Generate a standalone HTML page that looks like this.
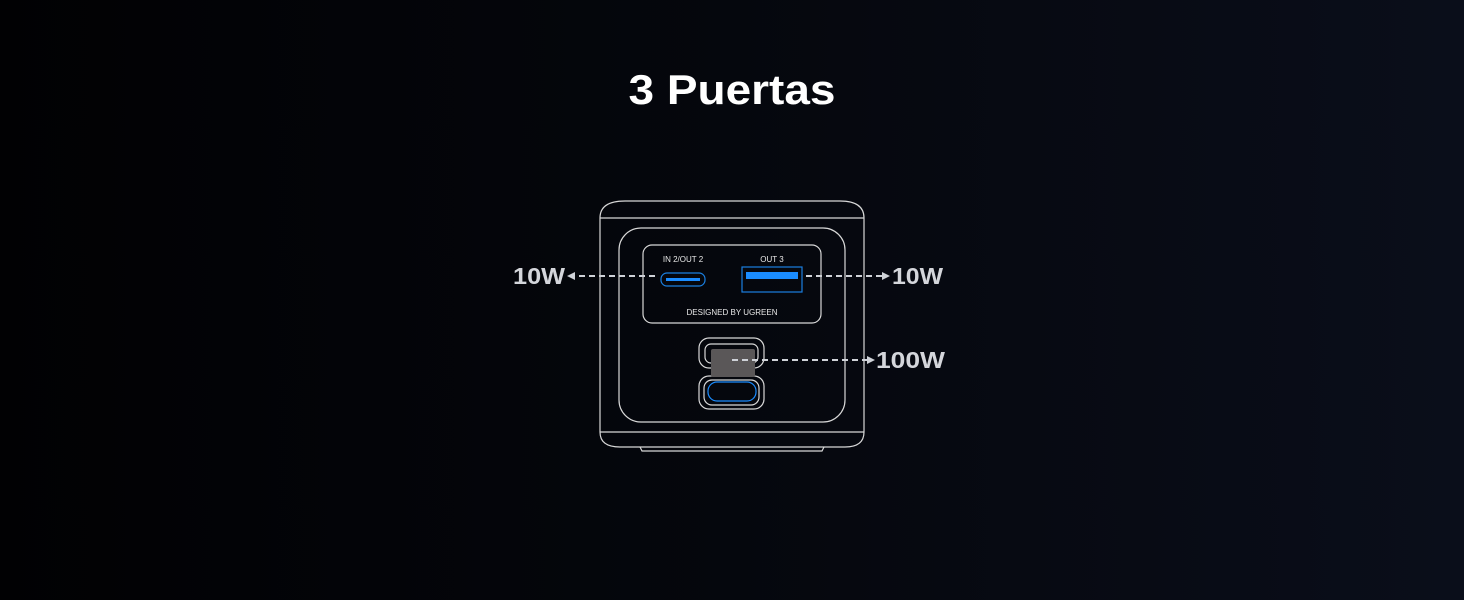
<!DOCTYPE html>
<html><head><meta charset="utf-8"><style>
html,body{margin:0;padding:0;width:1464px;height:600px;overflow:hidden;background:linear-gradient(90deg,#010103 0%,#05070d 50%,#0a0e1a 100%);}
svg{display:block}
</style></head><body>
<svg width="1464" height="600" viewBox="0 0 1464 600" xmlns="http://www.w3.org/2000/svg" font-family="Liberation Sans, sans-serif">
<text x="732" y="104" text-anchor="middle" font-size="42" font-weight="bold" fill="#fff" textLength="207" lengthAdjust="spacingAndGlyphs">3 Puertas</text>
<g fill="none" stroke="#d8d8d8" stroke-width="1.2">
<path d="M600 218 Q600 201 625 201 L840 201 Q864 201 864 218 L864 432 Q864 447 845 447 L620 447 Q600 447 600 432 Z"/>
<line x1="600" y1="218" x2="864" y2="218"/>
<line x1="600" y1="432" x2="864" y2="432"/>
<path d="M640 447 L642 451 L822 451 L824 447"/>
<rect x="619" y="228" width="226" height="194" rx="22"/>
<rect x="643" y="245" width="178" height="78" rx="9"/>
<rect x="699" y="338" width="65" height="30" rx="10"/>
<rect x="705" y="344" width="53" height="19" rx="6"/>
<rect x="699" y="376" width="65" height="33" rx="10"/>
<rect x="704" y="380" width="55" height="25" rx="8"/>
</g>
<rect x="661" y="273" width="44" height="13" rx="6" fill="none" stroke="#1a7fe0" stroke-width="1.2"/>
<rect x="666" y="278" width="34" height="3" fill="#1a8cff"/>
<rect x="742" y="267" width="60" height="25" fill="none" stroke="#1a7fe0" stroke-width="1.2"/>
<rect x="746" y="272" width="52" height="7" fill="#1a8cff"/>
<rect x="708" y="382" width="48" height="19" rx="9" fill="none" stroke="#1a8cff" stroke-width="1.2"/>
<rect x="711" y="349" width="44" height="28" rx="2" fill="#5a5758"/>
<g fill="#e8e8e8" font-size="8">
<text x="683" y="262" text-anchor="middle">IN 2/OUT 2</text>
<text x="772" y="262" text-anchor="middle">OUT 3</text>
<text x="732" y="315" text-anchor="middle">DESIGNED BY UGREEN</text>
</g>
<g stroke="#cfd2d8" stroke-width="2" stroke-dasharray="6,4">
<line x1="655" y1="276" x2="574" y2="276"/>
<line x1="806" y1="276" x2="882" y2="276"/>
<line x1="732" y1="360" x2="868" y2="360"/>
</g>
<g fill="#cfd2d8">
<path d="M567 276 L575 272 L575 280 Z"/>
<path d="M890 276 L882 272 L882 280 Z"/>
<path d="M875 360 L867 356 L867 364 Z"/>
</g>
<g fill="#d4d6db" font-size="23" font-weight="bold">
<text x="513" y="284" textLength="52" lengthAdjust="spacingAndGlyphs">10W</text>
<text x="892" y="284" textLength="51" lengthAdjust="spacingAndGlyphs">10W</text>
<text x="876" y="368" textLength="69" lengthAdjust="spacingAndGlyphs">100W</text>
</g>
</svg>
</body></html>
